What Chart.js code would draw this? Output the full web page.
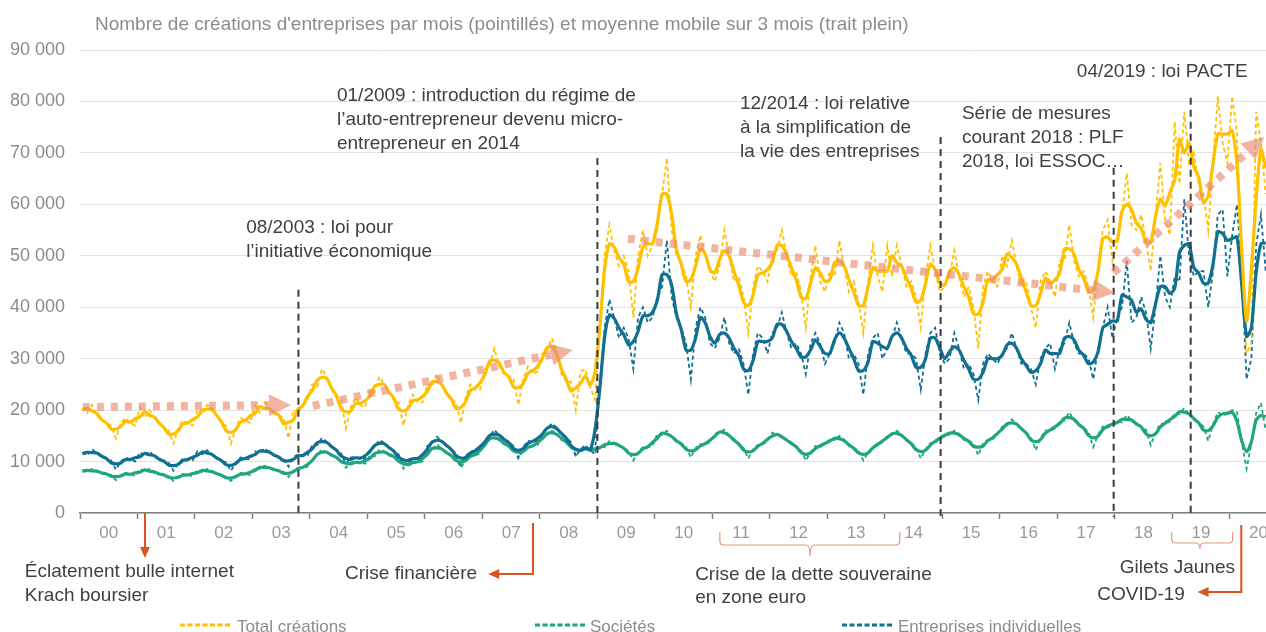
<!DOCTYPE html>
<html lang="fr">
<head>
<meta charset="utf-8">
<title>Créations d'entreprises</title>
<script src="https://cdn.jsdelivr.net/npm/chart.js@4.4.1/dist/chart.umd.min.js"></script>
<style>
    html, body { margin: 0; padding: 0; background: #ffffff; }
    #wrap { position: relative; width: 1266px; height: 632px; }
</style>
</head>
<body>
<div id="wrap"><canvas id="myChart"></canvas></div>
<script>
//Monthly creations, in thousands, Jan 2000 -> Aug 2020
//Solid lines = 3 month moving average of these values (as the chart title says)

const firstYear = 2000;
const yearLabels = ['00', '01', '02', '03', '04', '05', '06', '07', '08', '09', '10',
                    '11', '12', '13', '14', '15', '16', '17', '18', '19', '20'];
const yTicks = [0, 10000, 20000, 30000, 40000, 50000, 60000, 70000, 80000, 90000];
const seriesNames = ['Total créations', 'Sociétés', 'Entreprises individuelles'];

const totalMonthly = [
    20.5, 19.5, 21.0, 19.0, 18.0, 17.5, 17.0, 14.5, 17.5, 18.5, 17.5, 17.0, //2000
    20.5, 18.5, 20.0, 18.5, 17.5, 16.5, 16.0, 13.5, 16.5, 18.0, 17.5, 17.0, //2001
    20.0, 19.0, 21.0, 20.5, 19.0, 17.5, 17.0, 13.5, 16.5, 18.5, 18.0, 17.5, //2002
    21.0, 19.5, 21.5, 20.0, 19.5, 19.0, 18.5, 14.5, 20.0, 19.5, 21.0, 22.0, //2003
    25.0, 24.5, 28.0, 26.5, 24.0, 22.5, 22.0, 16.5, 20.5, 22.5, 21.0, 20.5, //2004
    24.0, 23.5, 26.5, 25.0, 23.5, 22.0, 21.5, 17.0, 21.0, 23.0, 21.5, 21.5, //2005
    25.0, 24.5, 27.0, 25.0, 23.0, 22.0, 21.5, 17.5, 22.5, 25.0, 24.0, 24.0, //2006
    28.0, 28.5, 32.0, 28.5, 27.0, 26.5, 26.0, 21.0, 26.0, 28.5, 27.0, 27.5, //2007
    31.0, 31.5, 34.0, 31.5, 27.0, 25.5, 25.5, 20.0, 27.5, 28.0, 24.5, 22.0, //2008
    36, 50, 56, 51, 48, 50, 47, 38, 50, 55, 50, 52, //2009
    55, 62, 69, 55, 50, 49, 46, 40, 50, 54, 50, 47, //2010
    45, 48, 55, 50, 45, 46, 42, 35, 44, 48, 47, 45, //2011
    50, 51, 55, 50, 46, 47, 43, 36, 46, 52, 45, 43, //2012
    47, 46, 53, 48, 43, 45, 41, 35, 45, 52, 46, 43, //2013
    52, 46, 52, 48, 44, 45, 42, 36, 46, 52, 47, 43, //2014
    44, 46, 51, 46, 42, 44, 40, 32, 44, 47, 45, 44, //2015
    50, 48, 53, 48, 44, 45, 40, 36, 45, 47, 45, 42, //2016
    49, 49, 56, 49, 46, 47, 44, 38, 48, 55, 57, 49, //2017
    52, 58, 66, 56, 55, 58, 53, 47, 58, 68, 57, 54, //2018
    76, 64, 78, 68, 70, 64, 62, 55, 68, 81, 72, 68, //2019
    81, 74, 48, 31, 33, 78, 72, 62                  //2020
];

const societesMonthly = [
    8.3, 8.0, 8.6, 8.0, 7.8, 7.6, 7.4, 6.4, 7.4, 7.8, 7.6, 7.2,
    8.6, 8.0, 8.6, 7.8, 7.6, 7.4, 7.2, 6.2, 7.0, 7.6, 7.4, 7.2,
    8.4, 7.9, 8.6, 8.0, 7.6, 7.4, 7.0, 6.2, 7.2, 7.8, 7.6, 7.4,
    8.8, 8.6, 9.2, 8.8, 8.4, 8.2, 8.0, 7.0, 8.2, 8.8, 8.8, 9.0,
    10.5, 11.2, 12.4, 11.8, 11.2, 10.8, 10.4, 8.8, 9.8, 10.0, 9.8, 9.6,
    11.2, 11.0, 12.4, 12.0, 11.2, 11.0, 10.6, 8.6, 9.6, 10.0, 9.8, 10.0,
    12.0, 12.2, 13.4, 12.4, 11.6, 11.2, 10.6, 8.8, 10.4, 11.4, 11.2, 11.6,
    13.8, 14.2, 15.4, 14.2, 13.4, 13.0, 12.6, 10.6, 12.2, 13.0, 13.0, 13.2,
    15.0, 15.2, 16.0, 15.6, 14.2, 13.8, 13.4, 11.2, 12.4, 12.8, 12.2, 12.2,
    13.0, 12.8, 14.0, 13.6, 13.0, 12.8, 12.0, 10.2, 11.8, 12.8, 12.8, 13.0,
    15.4, 15.2, 16.0, 14.8, 13.8, 13.6, 12.8, 10.8, 12.6, 13.4, 13.2, 13.8,
    15.4, 15.6, 16.2, 15.0, 14.0, 13.6, 12.6, 10.6, 12.4, 13.2, 13.4, 14.0,
    15.6, 15.2, 15.0, 14.2, 13.4, 13.0, 12.2, 10.2, 11.8, 13.0, 12.8, 13.4,
    14.4, 14.2, 15.0, 14.2, 13.0, 12.6, 12.2, 10.2, 11.8, 13.0, 13.2, 13.8,
    15.0, 15.2, 16.0, 15.2, 14.0, 13.6, 12.8, 10.6, 12.4, 13.6, 13.6, 14.6,
    15.4, 15.2, 16.0, 15.4, 14.2, 14.0, 13.6, 11.2, 13.6, 14.2, 14.4, 15.2,
    16.8, 17.0, 18.2, 17.4, 16.2, 15.6, 14.8, 12.2, 14.6, 16.0, 16.0, 16.4,
    17.8, 18.0, 19.6, 18.0, 17.0, 16.6, 15.8, 12.8, 15.2, 16.8, 16.6, 17.2,
    18.0, 17.6, 19.0, 18.0, 17.2, 16.8, 16.2, 13.2, 15.6, 17.4, 17.2, 17.8,
    19.4, 19.2, 20.4, 19.2, 18.2, 17.6, 16.8, 14.0, 17.2, 19.6, 19.0, 19.2,
    20.0, 19.6, 13.8, 8.6, 13.4, 19.4, 21.4, 16.0
];

const individuellesMonthly = [
    11.8, 11.2, 12.4, 11.6, 11.0, 10.6, 10.2, 8.4, 10.0, 10.8, 10.4, 10.0,
    11.8, 11.0, 12.0, 11.0, 10.4, 10.0, 9.8, 8.2, 9.6, 10.6, 10.4, 10.2,
    12.0, 11.4, 12.2, 11.4, 10.6, 10.2, 9.8, 8.2, 9.8, 10.8, 10.6, 10.4,
    12.0, 11.6, 12.6, 11.8, 11.2, 10.8, 10.6, 9.0, 10.8, 11.4, 11.0, 11.2,
    13.2, 13.2, 14.6, 13.8, 12.8, 12.2, 11.6, 9.4, 10.8, 11.0, 10.4, 10.6,
    12.4, 12.8, 14.2, 13.6, 12.6, 12.0, 11.4, 9.2, 10.4, 10.8, 10.4, 10.6,
    13.0, 13.6, 14.8, 14.0, 13.0, 12.4, 11.6, 9.4, 11.0, 12.0, 12.0, 12.4,
    14.2, 14.8, 16.2, 15.0, 14.2, 13.8, 13.0, 10.8, 12.8, 14.0, 13.8, 14.0,
    15.6, 16.4, 17.4, 16.6, 15.2, 14.6, 13.8, 11.0, 12.4, 13.2, 12.2, 11.4,
    25, 36, 41.5, 38, 34, 36, 34, 28, 38, 40, 37, 38,
    42, 44, 53, 42, 38, 36, 33, 26, 36, 40, 38, 33,
    32, 34, 38, 33, 31, 32, 29, 23, 31, 35, 34, 31,
    35, 36, 39, 35, 32, 33, 31, 27, 33, 35, 33, 29,
    31, 33, 37, 35, 30, 31, 29, 23, 31, 34, 35, 30,
    32, 34, 37, 34, 31, 31, 30, 24, 31, 35, 36, 31,
    29, 30, 35, 32, 28, 29, 27, 22, 29, 31, 30, 29,
    31, 32, 35, 32, 29, 29, 28, 25, 30, 32, 33, 28,
    32, 33, 37, 33, 31, 31, 30, 26, 32, 36, 40, 34,
    38, 40, 49, 37, 38, 42, 39, 32, 40, 50, 42, 40,
    46, 45, 61, 50, 46, 47, 47, 40, 47, 58, 59, 46,
    54, 60, 47, 26, 30, 52, 58, 47
];

const fontFamily = "'Liberation Sans', Arial, sans-serif";
const yellow = '#ffc000';
const green = '#1fa67e';
const blue = '#11708f';

function MonthX (_index)
{
    return firstYear + (_index + 0.5) / 12;
}

function ToPoints (_values)
{
    return _values.map((v, i) => ({ x: MonthX(i), y: v * 1000 }));
}

//centred 3 month moving average
function MovingAverage (_values)
{
    var out = [];
    for (var i = 0; i < _values.length; i++)
    {
        var sum = 0;
        var n = 0;
        for (var j = i - 1; j <= i + 1; j++)
        {
            if (j >= 0 && j < _values.length)
            {
                sum += _values[j];
                n++;
            }
        }
        out.push(sum / n);
    }
    return out;
}

function FormatThousands (_value)
{
    return String(_value).replace(/\B(?=(\d{3})+(?!\d))/g, ' ');
}

function DrawArrowHead (ctx, _tipX, _tipY, _angle, _len, _half)
{
    var bx = _tipX - _len * Math.cos(_angle);
    var by = _tipY - _len * Math.sin(_angle);
    ctx.beginPath();
    ctx.moveTo(_tipX, _tipY);
    ctx.lineTo(bx + _half * Math.sin(_angle), by - _half * Math.cos(_angle));
    ctx.lineTo(bx - _half * Math.sin(_angle), by + _half * Math.cos(_angle));
    ctx.closePath();
    ctx.fill();
}

function DrawTrendArrow (ctx, x1, y1, x2, y2)
{
    var angle = Math.atan2(y2 - y1, x2 - x1);
    var headLen = 22;
    ctx.save();
    ctx.strokeStyle = 'rgba(233, 140, 110, 0.65)';
    ctx.fillStyle = 'rgba(233, 140, 110, 0.65)';
    ctx.lineWidth = 8;
    ctx.setLineDash([7, 7]);
    ctx.beginPath();
    ctx.moveTo(x1, y1);
    ctx.lineTo(x2 - headLen * Math.cos(angle), y2 - headLen * Math.sin(angle));
    ctx.stroke();
    ctx.setLineDash([]);
    DrawArrowHead(ctx, x2, y2, angle, headLen, 11);
    ctx.restore();
}

function DrawBrace (ctx, _left, _right, _mid, _top, _line, _tip)
{
    var r = 4;
    ctx.beginPath();
    ctx.moveTo(_left, _top);
    ctx.lineTo(_left, _line - r);
    ctx.quadraticCurveTo(_left, _line, _left + r, _line);
    ctx.lineTo(_mid - r, _line);
    ctx.quadraticCurveTo(_mid, _line, _mid, _tip);
    ctx.quadraticCurveTo(_mid, _line, _mid + r, _line);
    ctx.lineTo(_right - r, _line);
    ctx.quadraticCurveTo(_right, _line, _right, _line - r);
    ctx.lineTo(_right, _top);
    ctx.stroke();
}

const decorPlugin =
{
    id: 'decor',
    afterDatasetsDraw (chart)
    {
        const ctx = chart.ctx;
        const xs = chart.scales.x;
        const ys = chart.scales.y;
        const bottom = chart.chartArea.bottom;

        //law markers
        const markers = [[2003.8, 43400], [2009.0, 69000], [2014.97, 73100], [2017.98, 67100], [2019.32, 80700]];
        ctx.save();
        ctx.strokeStyle = '#3a3a3a';
        ctx.lineWidth = 2;
        ctx.setLineDash([7, 5]);
        markers.forEach(m => {
            var x = xs.getPixelForValue(m[0]);
            ctx.beginPath();
            ctx.moveTo(x, ys.getPixelForValue(m[1]));
            ctx.lineTo(x, bottom + 4);
            ctx.stroke();
        });
        ctx.restore();

        //trend arrows
        const trends = [
            [2000.05, 20600, 2003.67, 21000],
            [2004.05, 20800, 2008.57, 31700],
            [2009.53, 53300, 2018.0, 42800],
            [2017.98, 46700, 2020.6, 73100]
        ];
        trends.forEach(t => {
            DrawTrendArrow(ctx, xs.getPixelForValue(t[0]), ys.getPixelForValue(t[1]),
                                xs.getPixelForValue(t[2]), ys.getPixelForValue(t[3]));
        });
    },
    afterDraw (chart)
    {
        const ctx = chart.ctx;
        const xs = chart.scales.x;
        const ys = chart.scales.y;
        const bottom = chart.chartArea.bottom;

        ctx.save();
        ctx.textBaseline = 'middle';
        ctx.textAlign = 'left';

        //title
        ctx.font = '19px ' + fontFamily;
        ctx.fillStyle = '#8c8c8c';
        ctx.fillText("Nombre de créations d'entreprises par mois (pointillés) et moyenne mobile sur 3 mois (trait plein)", 95, 25);

        //law notes inside the plot
        const notes = [
            [2002.89, 55400, ['08/2003 : loi pour', 'l’initiative économique']],
            [2004.47, 81100, ['01/2009 : introduction du régime de', 'l’auto-entrepreneur devenu micro-', 'entrepreneur en 2014']],
            [2011.48, 79500, ['12/2014 : loi relative', 'à la simplification de', 'la vie des entreprises']],
            [2015.34, 77600, ['Série de mesures', 'courant 2018 : PLF', '2018, loi ESSOC…']],
            [2017.34, 85700, ['04/2019 : loi PACTE']]
        ];
        ctx.font = '19px ' + fontFamily;
        ctx.fillStyle = '#404040';
        notes.forEach(n => {
            var x = xs.getPixelForValue(n[0]);
            var y = ys.getPixelForValue(n[1]);
            n[2].forEach((line, k) => ctx.fillText(line, x, y + k * 24));
        });

        //events below the axis
        ctx.strokeStyle = '#d9541e';
        ctx.fillStyle = '#d9541e';
        ctx.lineWidth = 2;
        var ax = xs.getPixelForValue(2001.13);
        ctx.beginPath(); ctx.moveTo(ax, bottom); ctx.lineTo(ax, bottom + 36); ctx.stroke();
        DrawArrowHead(ctx, ax, bottom + 45, Math.PI / 2, 11, 5);

        var fx = xs.getPixelForValue(2007.88);
        var fEnd = xs.getPixelForValue(2007.1);
        ctx.beginPath(); ctx.moveTo(fx, bottom + 10); ctx.lineTo(fx, bottom + 61); ctx.lineTo(fEnd + 9, bottom + 61); ctx.stroke();
        DrawArrowHead(ctx, fEnd, bottom + 61, Math.PI, 11, 5);

        var cx = xs.getPixelForValue(2020.2);
        var cEnd = xs.getPixelForValue(2019.44);
        ctx.beginPath(); ctx.moveTo(cx, bottom + 12); ctx.lineTo(cx, bottom + 79); ctx.lineTo(cEnd + 9, bottom + 79); ctx.stroke();
        DrawArrowHead(ctx, cEnd, bottom + 79, Math.PI, 11, 5);

        ctx.strokeStyle = '#e8967a';
        ctx.lineWidth = 1.2;
        DrawBrace(ctx, xs.getPixelForValue(2011.13), xs.getPixelForValue(2014.26), xs.getPixelForValue(2012.7),
                  bottom + 19, bottom + 32, bottom + 43);
        DrawBrace(ctx, xs.getPixelForValue(2018.99), xs.getPixelForValue(2020.05), xs.getPixelForValue(2019.48),
                  bottom + 19, bottom + 30, bottom + 36);

        ctx.fillStyle = '#404040';
        ctx.font = '19px ' + fontFamily;
        ctx.fillText('Éclatement bulle internet', xs.getPixelForValue(1999.04), bottom + 59);
        ctx.fillText('Krach boursier', xs.getPixelForValue(1999.04), bottom + 83);
        ctx.fillText('Crise financière', xs.getPixelForValue(2004.61), bottom + 61);
        ctx.fillText('Crise de la dette souveraine', xs.getPixelForValue(2010.7), bottom + 62);
        ctx.fillText('en zone euro', xs.getPixelForValue(2010.7), bottom + 85);
        ctx.textAlign = 'right';
        ctx.fillText('Gilets Jaunes', xs.getPixelForValue(2020.09), bottom + 55);
        ctx.fillText('COVID-19', xs.getPixelForValue(2019.22), bottom + 82);

        //legend
        const legendItems = [[180, 237, yellow], [535, 590, green], [842, 898, blue]];
        ctx.textAlign = 'left';
        ctx.font = '17px ' + fontFamily;
        legendItems.forEach((item, i) => {
            ctx.strokeStyle = item[2];
            ctx.lineWidth = 3;
            ctx.setLineDash([5, 2.5]);
            ctx.beginPath(); ctx.moveTo(item[0], 625); ctx.lineTo(item[0] + 50, 625); ctx.stroke();
            ctx.setLineDash([]);
            ctx.fillStyle = '#8c8c8c';
            ctx.fillText(seriesNames[i], item[1], 627);
        });
        ctx.restore();
    }
};

DrawChart();

function DrawChart ()
{
    const series = [totalMonthly, societesMonthly, individuellesMonthly];
    const colors = [yellow, green, blue];

    var solid = [0, 2, 1].map(i => ({
        label: seriesNames[i] + ' (moyenne mobile)',
        data: ToPoints(MovingAverage(series[i])),
        borderColor: colors[i],
        borderWidth: 3.2,
        pointRadius: 0,
        tension: 0.25,
        fill: false
    }));
    var dashed = [0, 2, 1].map(i => ({
        label: seriesNames[i],
        data: ToPoints(series[i]),
        borderColor: colors[i],
        borderWidth: 1.8,
        borderDash: [4, 3],
        pointRadius: 0,
        tension: 0,
        fill: false
    }));

    const config =
    {
        type: 'line',
        data: { datasets: solid.concat(dashed) },
        options:
        {
            responsive: true,
            maintainAspectRatio: false,
            animation: false,
            parsing: false,
            layout: { padding: { top: 50, right: 0, bottom: 79, left: 0 } },
            plugins:
            {
                legend: { display: false },
                tooltip: { enabled: false }
            },
            scales:
            {
                x:
                {
                    type: 'linear',
                    min: 2000,
                    max: 2020.63,
                    afterBuildTicks: scale => {
                        var ticks = [];
                        for (var y = 0; y < yearLabels.length; y++)
                        {
                            ticks.push({ value: firstYear + y });
                            ticks.push({ value: firstYear + y + 0.5 });
                        }
                        scale.ticks = ticks;
                    },
                    afterFit: scale => {
                        scale.height = 40;
                        scale.paddingLeft = 0;
                        scale.paddingRight = 0;
                    },
                    ticks:
                    {
                        autoSkip: false,
                        maxRotation: 0,
                        padding: 4,
                        color: '#9a9a9a',
                        font: { family: fontFamily, size: 17 },
                        callback: value => (value % 1 !== 0) ? yearLabels[Math.floor(value) - firstYear] : ''
                    },
                    grid:
                    {
                        drawOnChartArea: false,
                        tickLength: 6,
                        tickWidth: 1.5,
                        tickColor: c => (c.tick && c.tick.value % 1 === 0) ? '#808080' : 'rgba(0,0,0,0)'
                    },
                    border: { color: '#808080', width: 1.5 }
                },
                y:
                {
                    min: 0,
                    max: 90000,
                    afterBuildTicks: scale => { scale.ticks = yTicks.map(v => ({ value: v })); },
                    afterFit: scale => { scale.width = 80; },
                    ticks:
                    {
                        padding: 15,
                        color: '#8f8a87',
                        font: { family: fontFamily, size: 18 },
                        callback: value => FormatThousands(value)
                    },
                    grid: { color: '#e2e2e2', lineWidth: 1, drawTicks: false },
                    border: { display: false }
                }
            }
        },
        plugins: [decorPlugin]
    };

    const ctx = document.getElementById('myChart').getContext('2d');
    if (ctx) {
        const myChart = new Chart(ctx, config);
    } else {
        console.error('Element with ID "myChart" not found.');
    }
}
</script>
</body>
</html>
